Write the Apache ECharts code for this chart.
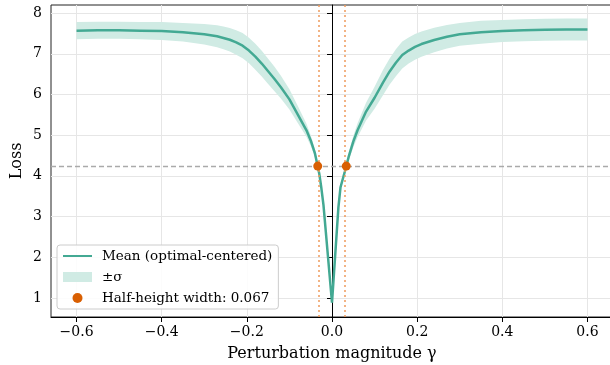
<!DOCTYPE html>
<html>
<head>
<meta charset="utf-8">
<script src="https://cdn.jsdelivr.net/npm/echarts@6/dist/echarts.min.js"></script>
<style>
    html, body { margin: 0; padding: 0; background: #fff; }
    #chart { width: 610px; height: 365px; }
</style>
</head>
<body>
<div id="chart"></div>
<script>
    // perturbation values (x) and the measured loss curve
    const gamma = [-0.6, -0.55, -0.5, -0.45, -0.4, -0.35, -0.3, -0.27, -0.255, -0.24, -0.225, -0.21, -0.195,
        -0.18, -0.165, -0.15, -0.135, -0.12, -0.1, -0.08, -0.06, -0.05, -0.04, -0.03, -0.025, -0.02, 0,
        0.015, 0.02, 0.03, 0.04, 0.05, 0.06, 0.08, 0.1, 0.12, 0.135, 0.15, 0.165, 0.18, 0.195, 0.21,
        0.24, 0.27, 0.3, 0.35, 0.4, 0.45, 0.5, 0.55, 0.6];
    const meanLoss = [7.57, 7.58, 7.58, 7.57, 7.56, 7.53, 7.48, 7.43, 7.39, 7.345, 7.28, 7.2, 7.08,
        6.93, 6.76, 6.57, 6.38, 6.18, 5.88, 5.5, 5.12, 4.87, 4.55, 4.06, 3.7, 3.28, 0.88,
        3.22, 3.72, 4.1, 4.5, 4.84, 5.12, 5.58, 5.92, 6.3, 6.56, 6.78, 6.97, 7.08, 7.17, 7.24,
        7.34, 7.42, 7.48, 7.53, 7.56, 7.58, 7.59, 7.6, 7.6];
    const sigma = [0.21, 0.21, 0.21, 0.21, 0.22, 0.23, 0.25, 0.27, 0.28, 0.29, 0.3, 0.31, 0.315,
        0.32, 0.315, 0.31, 0.3, 0.28, 0.25, 0.21, 0.16, 0.13, 0.1, 0.08, 0.07, 0.06, 0.02,
        0.06, 0.07, 0.09, 0.11, 0.14, 0.17, 0.22, 0.27, 0.31, 0.32, 0.33, 0.33, 0.32, 0.315, 0.31,
        0.3, 0.29, 0.28, 0.28, 0.27, 0.27, 0.27, 0.27, 0.27];

    const xTicks = [-0.6, -0.4, -0.2, 0, 0.2, 0.4, 0.6];
    const yTicks = [1, 2, 3, 4, 5, 6, 7, 8];

    // half-height crossings
    const halfHeight = 4.24;
    const crossX = [-0.0335, 0.0335];
    const crossY = [4.24, 4.24];

    const FONT = 'DejaVu Serif';
    const lineColor = '#43a993';
    const bandColor = '#d0ebe4';
    const dotColor = '#d95f02';

    const chart = echarts.init(document.getElementById('chart'));

    chart.setOption({
        animation: false,
        backgroundColor: '#fff',
        textStyle: { fontFamily: FONT },
        grid: {
            left: 51, top: 5, bottom: 48, width: 562,
            outerBoundsMode: 'none',
            show: true, borderColor: '#222', borderWidth: 1, backgroundColor: '#fff'
        },
        legend: {
            orient: 'vertical',
            left: 57, top: 245,
            padding: [4, 6, 4, 5],
            itemWidth: 29, itemHeight: 10, itemGap: 7,
            backgroundColor: 'rgba(255,255,255,0.85)',
            borderColor: '#cccccc', borderWidth: 1, borderRadius: 3,
            textStyle: { fontFamily: FONT, fontSize: 13.5, color: '#000', lineHeight: 14, padding: [0, 0, 0, 5] },
            data: [
                { name: 'Mean (optimal-centered)', itemStyle: { opacity: 0 } },
                { name: '±σ', icon: 'rect', itemStyle: { color: bandColor } },
                { name: 'Half-height width: 0.067', icon: 'circle' }
            ]
        },
        xAxis: {
            type: 'value',
            min: -0.66, max: 0.66,
            splitNumber: 7,
            name: 'Perturbation magnitude γ',
            nameLocation: 'middle', nameGap: 29,
            nameTextStyle: { fontFamily: FONT, fontSize: 16, color: '#000' },
            axisLine: { lineStyle: { color: '#000', width: 1 } },
            axisTick: { length: 5, customValues: xTicks, lineStyle: { color: '#000' } },
            axisLabel: {
                customValues: xTicks, margin: 8,
                fontFamily: FONT, fontSize: 14, color: '#000',
                formatter: v => v.toFixed(1).replace('-', '\u2212')
            },
            splitLine: { show: true, lineStyle: { color: '#e6e6e6', width: 1 } }
        },
        yAxis: {
            type: 'value',
            min: 0.53, max: 8.2,
            splitNumber: 8,
            name: 'Loss',
            nameLocation: 'middle', nameGap: 26,
            nameMoveOverlap: false,
            nameTextStyle: { fontFamily: FONT, fontSize: 16, color: '#000' },
            axisLine: { show: true, lineStyle: { color: '#000', width: 1 } },
            axisTick: { show: true, length: 5, customValues: yTicks, lineStyle: { color: '#000' } },
            axisLabel: {
                customValues: yTicks, margin: 9,
                fontFamily: FONT, fontSize: 14, color: '#000',
                formatter: v => String(v)
            },
            splitLine: { show: true, lineStyle: { color: '#e6e6e6', width: 1 } }
        },
        series: [
            {
                name: '±σ',
                type: 'custom',
                clip: true,
                z: 1,
                itemStyle: { color: bandColor },
                data: gamma.map((g, i) => [g, meanLoss[i] - sigma[i], meanLoss[i] + sigma[i]]),
                encode: { x: 0, y: [1, 2] },
                renderItem: function (params, api) {
                    if (params.dataIndex !== 0) return;
                    const upper = [];
                    const lower = [];
                    for (let i = 0; i < gamma.length; i++) {
                        upper.push(api.coord([gamma[i], meanLoss[i] + sigma[i]]));
                        lower.push(api.coord([gamma[i], meanLoss[i] - sigma[i]]));
                    }
                    return {
                        type: 'polygon',
                        shape: { points: upper.concat(lower.reverse()) },
                        style: { fill: bandColor }
                    };
                }
            },
            {
                name: 'Mean (optimal-centered)',
                type: 'line',
                z: 3,
                symbol: 'none',
                showSymbol: false,
                color: lineColor,
                lineStyle: { color: lineColor, width: 2.5 },
                data: gamma.map((g, i) => [g, meanLoss[i]]),
                markLine: {
                    silent: true,
                    symbol: 'none',
                    label: { show: false },
                    lineStyle: { color: '#aaaaaa', type: [5, 3], width: 1.3 },
                    data: [{ yAxis: halfHeight }]
                }
            },
            {
                name: 'Half-height width: 0.067',
                type: 'scatter',
                z: 5,
                symbolSize: 9,
                itemStyle: { color: dotColor, opacity: 1 },
                data: crossX.map((x, i) => [x, crossY[i]]),
                markLine: {
                    silent: true,
                    symbol: 'none',
                    label: { show: false },
                    lineStyle: { color: '#ee9a5c', type: [2, 3], width: 1.5 },
                    data: crossX.map(x => ({ xAxis: x }))
                }
            }
        ]
    });
</script>
</body>
</html>
